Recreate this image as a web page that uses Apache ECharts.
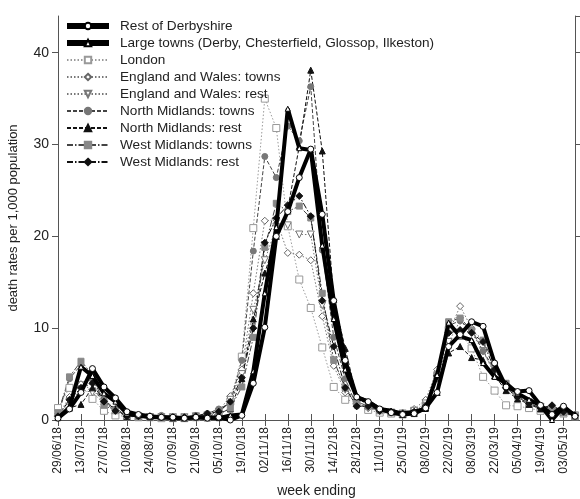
<!DOCTYPE html>
<html>
<head>
<meta charset="utf-8">
<script src="https://cdn.jsdelivr.net/npm/echarts@6/dist/echarts.min.js"></script>
<style>
  html, body { margin: 0; padding: 0; background: #fff; }
  #chart { width: 580px; height: 499px; }
</style>
</head>
<body>
<div id="chart"></div>
<script>
// week ending dates
const weeks = ['29/06/18','06/07/18','13/07/18','20/07/18','27/07/18','03/08/18','10/08/18','17/08/18','24/08/18','31/08/18',
  '07/09/18','14/09/18','21/09/18','28/09/18','05/10/18','12/10/18','19/10/18','26/10/18','02/11/18','09/11/18',
  '16/11/18','23/11/18','30/11/18','07/12/18','14/12/18','21/12/18','28/12/18','04/01/19','11/01/19','18/01/19',
  '25/01/19','01/02/19','08/02/19','15/02/19','22/02/19','01/03/19','08/03/19','15/03/19','22/03/19','29/03/19',
  '05/04/19','12/04/19','19/04/19','26/04/19','03/05/19','10/05/19']

const restDerbyshire = [0.2,1.2,3.0,5.6,3.6,2.4,0.9,0.6,0.4,0.3,0.3,0.2,0.3,0.2,0.3,0.0,0.5,4.0,10.1,20.0,
  22.7,26.4,29.5,22.4,13.0,6.5,2.5,2.0,1.2,0.8,0.6,0.7,1.3,3.0,8.0,9.3,10.7,10.2,6.2,3.6,3.1,3.2,1.6,0.6,1.5,0.4]
const largeTowns = [0.2,1.4,5.8,4.8,2.9,2.0,0.7,0.5,0.3,0.3,0.2,0.2,0.3,0.3,0.2,0.5,0.6,5.3,13.8,21.0,
  33.9,29.6,29.4,19.0,11.0,5.5,2.5,2.0,1.2,1.0,0.7,0.9,1.2,4.9,10.6,9.1,8.7,6.2,4.7,4.0,2.9,2.2,1.6,0.0,1.4,0.5]
const london = [1.3,3.5,3.8,2.3,1.0,0.5,0.4,0.3,0.3,0.2,0.2,0.2,0.3,0.4,0.8,2.0,6.9,20.9,35.0,31.8,
  21.1,15.3,12.2,7.9,3.6,2.2,2.0,1.1,0.8,0.7,0.6,0.9,1.6,4.8,9.8,9.5,7.8,4.7,3.2,1.6,1.5,1.3,1.0,0.8,0.7,0.4]
const ewTowns = [0.5,2.5,3.9,3.3,2.0,1.2,0.5,0.4,0.4,0.3,0.3,0.3,0.4,0.5,1.0,2.6,5.5,13.8,21.7,21.8,
  18.2,18.0,17.4,11.3,5.9,3.0,1.8,1.3,1.0,0.9,0.8,1.2,2.2,5.5,9.5,12.4,10.0,7.5,5.0,3.5,2.5,2.0,1.5,1.2,1.0,0.6]
const ewRest = [0.4,2.0,3.3,3.0,1.8,1.0,0.5,0.4,0.3,0.3,0.3,0.3,0.4,0.5,0.9,2.2,5.0,12.0,17.4,21.0,
  21.2,20.2,20.2,12.5,6.5,3.3,1.8,1.3,1.0,0.8,0.7,1.0,1.8,4.5,8.5,10.8,9.5,7.5,5.2,3.5,2.4,1.8,1.4,1.1,0.9,0.5]
const nmTowns = [0.6,4.5,6.0,4.4,2.2,1.2,0.6,0.4,0.4,0.5,0.3,0.3,0.5,0.7,1.2,1.8,6.5,18.4,28.7,26.4,
  32.0,30.4,36.3,18.5,9.0,4.5,1.5,1.5,1.0,0.8,0.7,0.8,1.5,4.5,10.3,10.8,9.8,7.5,5.5,3.5,2.5,1.8,1.4,1.0,1.0,0.5]
const nmRest = [0.3,1.3,1.7,3.5,2.0,1.2,0.4,0.4,0.3,0.3,0.2,0.2,0.3,0.4,0.7,1.2,4.5,11.0,16.0,20.0,
  23.0,29.8,38.1,29.3,13.1,7.8,2.5,1.6,1.1,0.9,0.6,0.7,1.3,3.0,7.3,8.0,6.8,6.5,4.8,3.2,2.3,1.7,1.2,1.5,0.8,0.4]
const wmTowns = [0.8,4.7,6.4,5.0,1.6,1.0,0.5,0.3,0.3,0.3,0.2,0.2,0.3,0.2,0.6,1.3,3.6,9.0,18.8,23.6,
  22.7,23.3,22.0,13.8,6.5,3.5,2.0,1.5,1.0,0.8,0.7,0.8,1.6,5.0,10.7,11.1,9.8,8.7,6.0,4.0,2.6,2.0,1.5,1.2,0.8,0.4]
const wmRest = [0.4,2.2,3.5,4.0,2.0,1.0,0.4,0.4,0.4,0.3,0.3,0.3,0.4,0.7,0.9,2.0,4.6,10.0,19.3,22.0,
  23.4,24.4,22.2,13.0,8.0,3.5,1.5,1.5,1.0,0.9,0.7,0.9,1.5,4.8,9.5,9.8,9.5,8.5,5.5,3.5,2.5,1.8,1.3,1.6,0.9,0.5]

const names = ['Rest of Derbyshire', 'Large towns (Derby, Chesterfield, Glossop, Ilkeston)', 'London',
  'England and Wales: towns', 'England and Wales: rest', 'North Midlands: towns', 'North Midlands: rest',
  'West Midlands: towns', 'West Midlands: rest']

const FONT = 'Liberation Sans, Arial, sans-serif'
const downTri = 'path://M0,0 L10,0 L5,9 Z'
const dashDot = [6, 2, 1.5, 2]

// helper for one line series
function mk(name, data, o) {
  return {
    name: name,
    type: 'line',
    data: data,
    symbol: o.symbol,
    symbolSize: o.size || 6,
    showSymbol: true,
    z: o.z || 2,
    lineStyle: { color: o.line, width: o.width || 1, type: o.type || 'solid' },
    itemStyle: { color: o.fill, borderColor: o.border, borderWidth: 1 },
    emphasis: { disabled: true },
    animation: false
  }
}

const series = [
  mk(names[2], london, { symbol: 'rect', size: 7, line: '#9a9a9a', type: [1.5, 2], fill: '#fff', border: '#999' }),
  mk(names[3], ewTowns, { symbol: 'diamond', size: 7, line: '#777', type: [1.5, 2], fill: '#fff', border: '#666' }),
  mk(names[4], ewRest, { symbol: downTri, size: 7, line: '#777', type: [1.5, 2], fill: '#fff', border: '#777' }),
  mk(names[5], nmTowns, { symbol: 'circle', size: 6, line: '#444', type: [4, 2], fill: '#777', border: '#777' }),
  mk(names[6], nmRest, { symbol: 'triangle', size: 6, line: '#111', type: [4, 2], fill: '#111', border: '#111' }),
  mk(names[7], wmTowns, { symbol: 'rect', size: 6, line: '#444', type: dashDot, fill: '#888', border: '#888' }),
  mk(names[8], wmRest, { symbol: 'diamond', size: 7, line: '#111', type: dashDot, fill: '#111', border: '#111' }),
  mk(names[1], largeTowns, { symbol: 'triangle', size: 5, line: '#000', width: 4, fill: '#fff', border: '#000', z: 5 }),
  mk(names[0], restDerbyshire, { symbol: 'circle', size: 6, line: '#000', width: 4, fill: '#fff', border: '#000', z: 6 })
]

// legend entries; the two Derbyshire lines get a heavier sample bar
const legendData = names.map(function (n, i) {
  return i < 2 ? { name: n, lineStyle: { width: 6 } } : { name: n }
})

const chart = echarts.init(document.getElementById('chart'))
chart.setOption({
  animation: false,
  backgroundColor: '#fff',
  textStyle: { fontFamily: FONT },
  grid: { left: 58, right: 5, top: 16, bottom: 79, outerBoundsMode: 'none', containLabel: false },
  legend: {
    data: legendData,
    orient: 'vertical',
    left: 64,
    top: 19,
    padding: 0,
    itemWidth: 42,
    itemHeight: 8,
    itemGap: 3,
    selectedMode: false,
    textStyle: { fontSize: 13.6, color: '#222', lineHeight: 14, padding: [0, 0, 0, 6], fontFamily: FONT }
  },
  xAxis: [
    {
      type: 'category',
      data: weeks,
      boundaryGap: false,
      name: 'week ending',
      nameLocation: 'middle',
      nameGap: 64,
      nameTextStyle: { fontSize: 14, color: '#222' },
      axisLine: { lineStyle: { color: '#555' } },
      axisTick: { interval: 1, length: 6, lineStyle: { color: '#555' } },
      axisLabel: { interval: 1, rotate: 90, fontSize: 12, color: '#222', margin: 7 },
      splitLine: { show: false }
    },
    {
      type: 'category',
      data: weeks,
      boundaryGap: false,
      position: 'top',
      axisLine: { lineStyle: { color: '#555' } },
      axisTick: { interval: 1, length: 6, lineStyle: { color: '#555' } },
      axisLabel: { show: false },
      splitLine: { show: false }
    }
  ],
  yAxis: [
    {
      type: 'value',
      min: 0,
      max: 44,
      interval: 10,
      name: 'death rates per 1,000 population',
      nameLocation: 'middle',
      nameGap: 38,
      nameTextStyle: { fontSize: 13, color: '#222' },
      axisLine: { show: true, lineStyle: { color: '#555' } },
      axisTick: { show: true, length: 6, lineStyle: { color: '#555' } },
      axisLabel: {
        fontSize: 14, color: '#222', margin: 9, showMaxLabel: false,
        formatter: function (v) { return v % 10 === 0 ? String(v) : '' }
      },
      splitLine: { show: false }
    },
    {
      type: 'value',
      min: 0,
      max: 44,
      interval: 10,
      position: 'right',
      axisLine: { show: true, lineStyle: { color: '#555' } },
      axisTick: { show: true, length: 6, lineStyle: { color: '#555' } },
      axisLabel: { show: false },
      splitLine: { show: false }
    }
  ],
  series: series
})
</script>
</body>
</html>
